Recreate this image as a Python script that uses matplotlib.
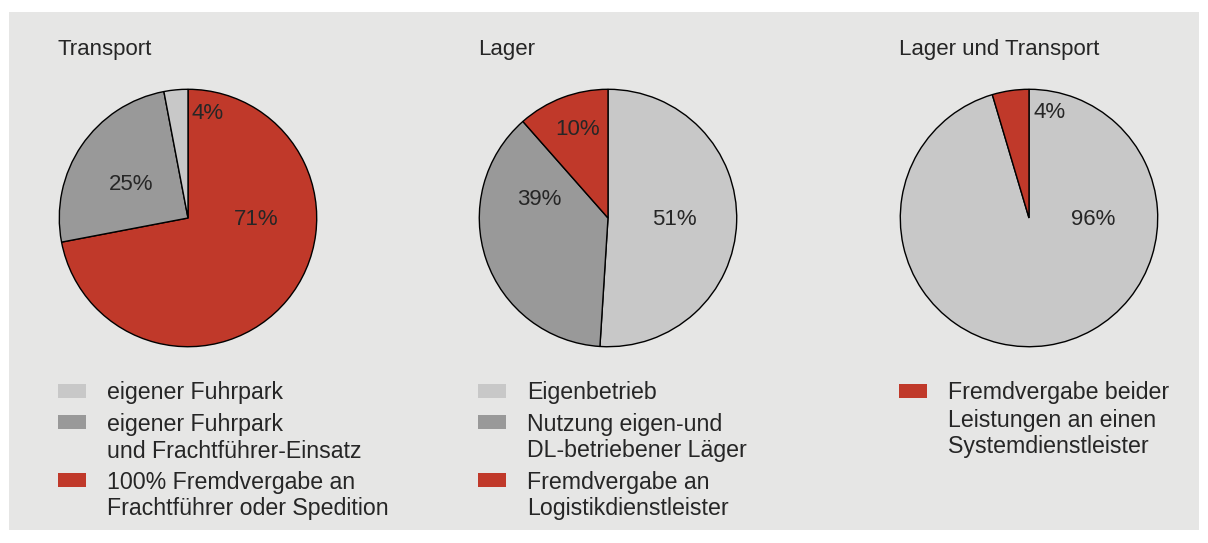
import matplotlib
matplotlib.use("Agg")
import matplotlib.pyplot as plt
from matplotlib.patches import Rectangle

plt.rcParams['font.family'] = ['Liberation Sans', 'DejaVu Sans']

# ---- data ----
titles = ["Transport", "Lager", "Lager und Transport"]

# wedge sizes as drawn in the picture (printed labels below)
transport_values = [72, 25, 3]
transport_labels = ["71%", "25%", "4%"]
transport_legend = ["eigener Fuhrpark",
                    "eigener Fuhrpark\nund Frachtführer-Einsatz",
                    "100% Fremdvergabe an\nFrachtführer oder Spedition"]

lager_values = [51, 37.5, 11.5]
lager_labels = ["51%", "39%", "10%"]
lager_legend = ["Eigenbetrieb",
                "Nutzung eigen-und\nDL-betriebener Läger",
                "Fremdvergabe an\nLogistikdienstleister"]

lt_values = [95.4, 4.6]
lt_labels = ["96%", "4%"]
lt_legend = ["Fremdvergabe beider\nLeistungen an einen\nSystemdienstleister"]

# ---- style ----
RED = "#c0392a"
DARK = "#999999"
LIGHT = "#c8c8c8"
BG = "#e6e6e5"
TXT = "#262626"
FS = 16
FS_LEG = 16.7

transport_colors = [RED, DARK, LIGHT]
lager_colors = [LIGHT, DARK, RED]
lt_colors = [LIGHT, RED]

transport_legend_colors = [LIGHT, DARK, RED]
lager_legend_colors = [LIGHT, DARK, RED]
lt_legend_colors = [RED]

# label positions (relative to pie radius)
transport_lpos = [(0.53, -0.015), (-0.44, 0.26), (0.15, 0.815)]
lager_lpos = [(0.515, -0.015), (-0.53, 0.14), (-0.24, 0.69)]
lt_lpos = [(0.50, -0.015), (0.16, 0.82)]

W, H = 1208, 543
fig = plt.figure(figsize=(W / 100, H / 100), dpi=100)
fig.patch.set_facecolor("white")
fig.patches.append(Rectangle((9 / W, (H - 530) / H), (1199 - 9) / W, (530 - 12) / H,
                             transform=fig.transFigure, facecolor=BG, edgecolor="none", zorder=-10))

centers_x = [188, 608, 1029]
cy = 218
R = 130

panels = [
    (transport_values, transport_colors, transport_labels, transport_lpos, transport_legend, transport_legend_colors),
    (lager_values, lager_colors, lager_labels, lager_lpos, lager_legend, lager_legend_colors),
    (lt_values, lt_colors, lt_labels, lt_lpos, lt_legend, lt_legend_colors),
]

for i, (vals, cols, labs, lpos, leg, legcols) in enumerate(panels):
    cx = centers_x[i]
    ax = fig.add_axes([(cx - R) / W, (H - cy - R) / H, 2 * R / W, 2 * R / H])
    ax.set_zorder(5)
    ax.patch.set_visible(False)
    ax.pie(vals, colors=cols, startangle=90, counterclock=False, radius=1,
           wedgeprops=dict(edgecolor="black", linewidth=1.0))
    ax.set_xlim(-1.01, 1.01)
    ax.set_ylim(-1.01, 1.01)
    ax.set_aspect("equal")
    ax.axis("off")
    for lab, (lx, ly) in zip(labs, lpos):
        ax.text(lx, ly, lab, ha="center", va="center", fontsize=FS, color=TXT)

    left = cx - R
    fig.text(left / W, 1 - 50 / H, titles[i], ha="left", va="center", fontsize=FS, color=TXT)

    # legend
    y = 391
    for text, c in zip(leg, legcols):
        fig.patches.append(Rectangle((left / W, 1 - (y + 7) / H), 28 / W, 14 / H,
                                     transform=fig.transFigure, facecolor=c, edgecolor="none"))
        for k, line in enumerate(text.split("\n")):
            fig.text((left + 49) / W, 1 - (y + 2 + 27 * k) / H, line, ha="left", va="center",
                     fontsize=FS_LEG, color=TXT)
        y += 27 * (text.count("\n") + 1) + 4

fig.savefig("out.png", dpi=100, facecolor="white")
